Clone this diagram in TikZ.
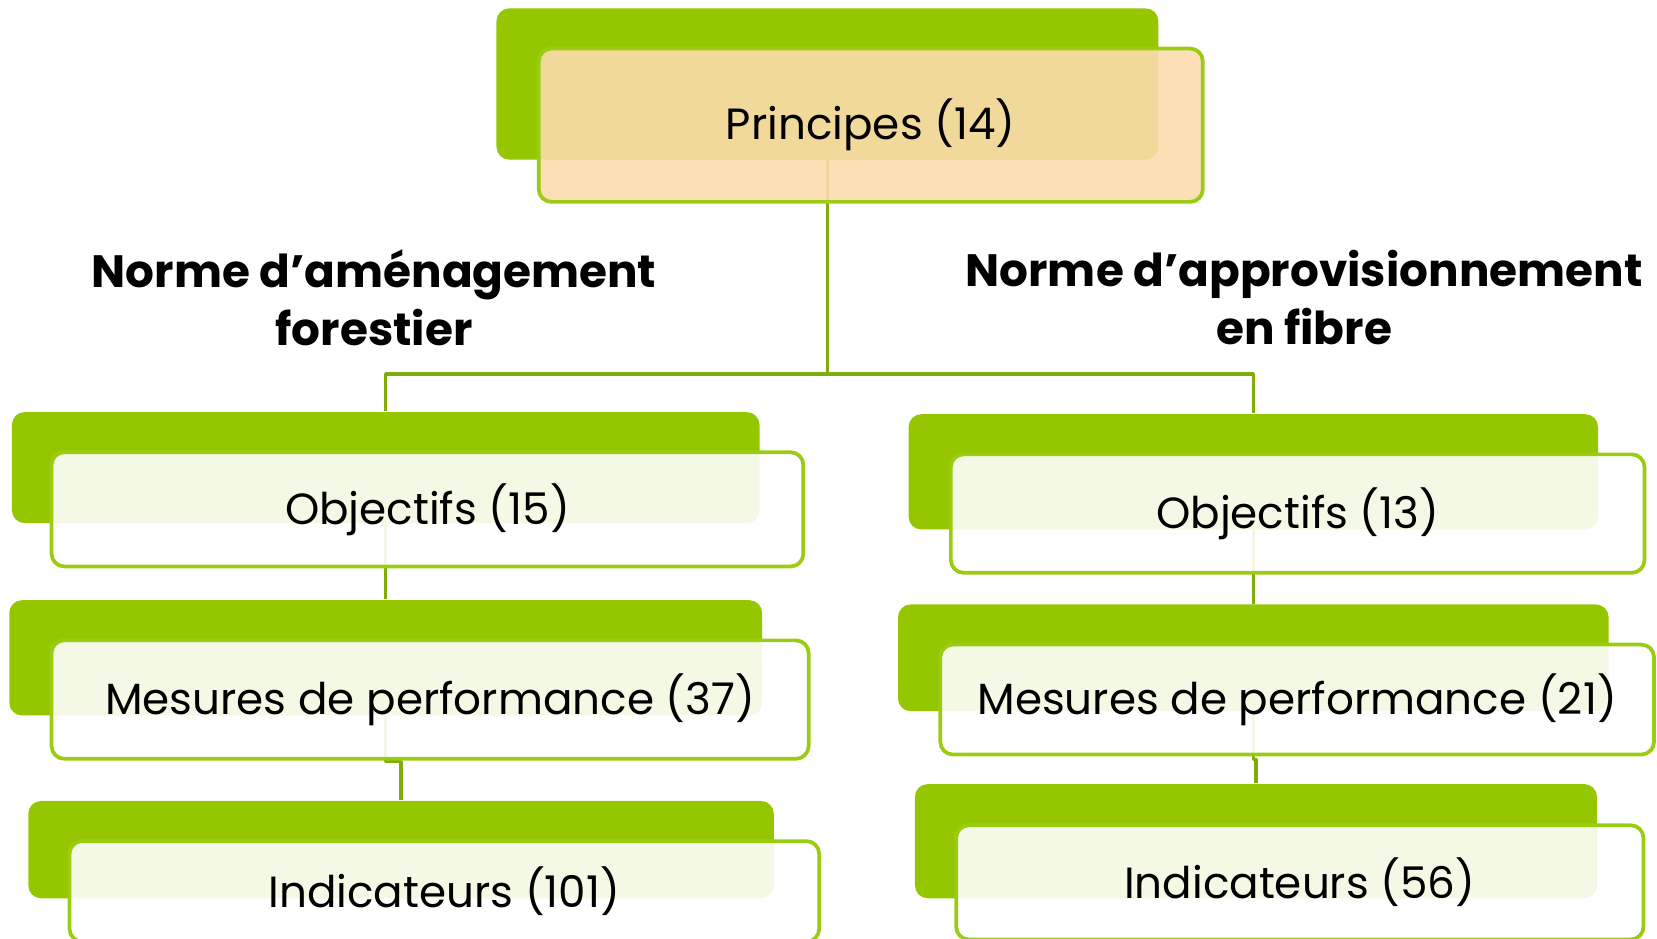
\documentclass[tikz,border=0pt]{standalone}
\usepackage{fontspec}
\setmainfont{Poppins}
\usepackage{xcolor}
\usetikzlibrary{positioning}
\definecolor{leaf}{RGB}{149,199,0}
\definecolor{rim}{RGB}{155,204,20}
\definecolor{stem}{RGB}{128,172,10}
\definecolor{peach}{RGB}{252,219,172}

\begin{document}
\begin{tikzpicture}[
    x=0.01cm,
    y=-0.01cm,
    line join=round
]

\tikzstyle{backbox}=[
    rectangle,
    rounded corners=0.12cm,
    fill=leaf,
    inner sep=0pt
]
\tikzstyle{frontbox}=[
    rectangle,
    rounded corners=0.12cm,
    draw=rim,
    line width=1pt,
    fill=white,
    fill opacity=0.9,
    text opacity=1,
    inner sep=0pt,
    font=\fontsize{11.75}{14}\selectfont
]
\tikzstyle{link}=[
    draw=stem,
    line width=0.9pt
]
\tikzstyle{heading}=[
    align=center,
    font=\fontsize{12.2}{15.6}\selectfont\bfseries
]

\clip (0,0) rectangle (1568,888);

% back layers
\node[backbox, minimum width=6.26cm, minimum height=1.43cm] (pb) at (783,79.5) {};
\node[backbox, minimum width=7.07cm, minimum height=1.05cm] (ol) at (365,442.5) {};
\node[backbox, minimum width=7.12cm, minimum height=1.09cm] (ml) at (365,622.5) {};
\node[backbox, minimum width=7.05cm, minimum height=0.92cm] (il) at (379.5,804) {};
\node[backbox, minimum width=6.52cm, minimum height=1.09cm] (or) at (1186,446.5) {};
\node[backbox, minimum width=6.72cm, minimum height=1.01cm] (mr) at (1186,622.5) {};
\node[backbox, minimum width=6.45cm, minimum height=1.08cm] (ir) at (1188.5,796) {};

% connectors
\coordinate (split) at (783,354);
\draw[link] (pb.south) -- (split) -| (ol.north);
\draw[link] (split) -| (or.north);
\draw[link] (ol.south) -- (ml.north);
\draw[link] (ml.south) -- ++(0,43) -| (il.north);
\draw[link] (or.south) -- (mr.north);
\draw[link] (mr.south) -- ++(0,45) -| (ir.north);

% front layers
\node[frontbox, fill=peach, minimum width=6.28cm, minimum height=1.45cm] (p) at (824,118.5) {Principes (14)};
\node[frontbox, minimum width=7.11cm, minimum height=1.08cm] (o1) at (404.5,482) {Objectifs (15)};
\node[frontbox, minimum width=7.16cm, minimum height=1.12cm] (m1) at (407,662) {Mesures de performance (37)};
\node[frontbox, minimum width=7.09cm, minimum height=0.95cm] (i1) at (420.5,843.5) {Indicateurs (101)};
\node[frontbox, minimum width=6.56cm, minimum height=1.12cm] (o2) at (1228,486) {Objectifs (13)};
\node[frontbox, minimum width=6.75cm, minimum height=1.04cm] (m2) at (1227.5,662) {Mesures de performance (21)};
\node[frontbox, minimum width=6.50cm, minimum height=1.08cm] (i2) at (1230,835) {Indicateurs (56)};

% headings
\node[heading] (na) at (354,282) {Norme d’aménagement\\forestier};
\node[heading] (nf) at (1234,282) {Norme d’approvisionnement\\en fibre};

\end{tikzpicture}
\end{document}
